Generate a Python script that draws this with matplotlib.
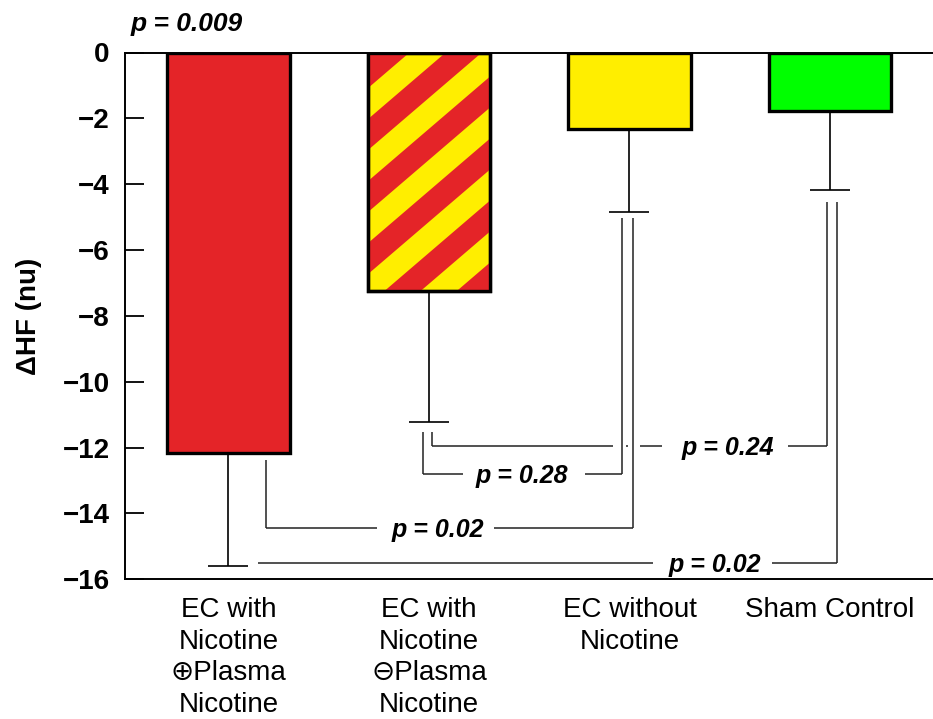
import matplotlib
matplotlib.use("Agg")
import matplotlib.pyplot as plt
from matplotlib.transforms import IdentityTransform
from matplotlib.patches import Polygon
import numpy as np

plt.rcParams['font.family'] = ['Liberation Sans', 'DejaVu Sans']

# ---------------- data ----------------
categories = ["EC with\nNicotine\n\u2295Plasma\nNicotine",
              "EC with\nNicotine\n\u2296Plasma\nNicotine",
              "EC without\nNicotine",
              "Sham Control"]
delta_hf = [-12.15, -7.24, -2.31, -1.79]
sem = [3.44, 3.97, 2.53, 2.40]
bar_colors = ['#E42428', '#FFEE00', '#FFEE00', '#00FF00']
striped = [False, True, False, False]
stripe_color = '#E42428'
yticks = [0, -2, -4, -6, -8, -10, -12, -14, -16]
ylabel = "\u0394HF (nu)"
overall_p = "p = 0.009"

# pairwise comparisons
comp_labels = ["p = 0.02", "p = 0.28", "p = 0.24", "p = 0.02"]
comp_left_x = [0.187, 0.970, 1.015, 0.147]
comp_left_top = [-12.38, -11.53, -11.53, None]
comp_level = [-14.44, -12.80, -11.95, -15.49]
comp_right_x = [2.018, 1.962, 2.985, 3.035]
comp_right_top = [-5.03, -5.03, -4.54, -4.54]
comp_text_x = [1.042, 1.464, 2.489, 2.426]
comp_gaps = [[(0.741, 1.324)],
             [(1.170, 1.778)],
             [(1.918, 1.983), (1.993, 2.052), (2.162, 2.791)],
             [(2.117, 2.711)]]

# ---------------- figure ----------------
W, H = 933, 719
fig = plt.figure(figsize=(W / 100, H / 100), dpi=100)
ax = fig.add_axes([124.5 / W, (H - 579.3) / H, (935 - 124.5) / W, (579.3 - 52.5) / H])

x = np.arange(len(categories))
ax.set_xlim(-0.5187, 3.5237)
ax.set_ylim(-16, 0)

bars = ax.bar(x, delta_hf, width=0.612, color=bar_colors, edgecolor='black',
              linewidth=2.4, zorder=2)

# stripes on the hatched bar (drawn in pixel space, clipped to bar)
period = 62.0
t = np.tan(np.deg2rad(40.6))
for idx, (b, s) in enumerate(zip(bars, striped)):
    if not s:
        continue
    bb = b.get_window_extent()
    x0, x1 = bb.x0 - 5, bb.x1 + 5
    c_ref = (H - 86.7) - (bb.x0 + 2) * t
    cmin = bb.y0 - x1 * t - period
    cmax = bb.y1 - x0 * t + period
    k0 = int(np.floor((cmin - c_ref) / period))
    k1 = int(np.ceil((cmax - c_ref) / period))
    for k in range(k0, k1 + 1):
        c1 = c_ref + k * period
        c2 = c1 + period / 2
        poly = Polygon([(x0, x0 * t + c1), (x1, x1 * t + c1),
                        (x1, x1 * t + c2), (x0, x0 * t + c2)],
                       closed=True, facecolor=stripe_color, edgecolor='none',
                       transform=IdentityTransform(), zorder=2.1)
        ax.add_artist(poly)
        poly.set_clip_path(b)
    # redraw edge on top
    ax.bar(x[idx], delta_hf[idx], width=0.612, color='none',
           edgecolor='black', linewidth=2.4, zorder=2.2)

ax.errorbar(x, delta_hf, yerr=[sem, [0] * len(sem)], fmt='none', ecolor='black',
            elinewidth=1.2, capsize=14.4, capthick=1.2, zorder=1.5)

# comparison brackets
lc = '#222222'
lw = 1.1
for i in range(len(comp_labels)):
    lx, rx, lev = comp_left_x[i], comp_right_x[i], comp_level[i]
    if comp_left_top[i] is not None:
        ax.vlines(lx, lev, comp_left_top[i], color=lc, lw=lw, zorder=1.4)
    ax.vlines(rx, lev, comp_right_top[i], color=lc, lw=lw, zorder=1.4)
    pieces = []
    start = lx
    for g0, g1 in comp_gaps[i]:
        pieces.append((start, g0))
        start = g1
    pieces.append((start, rx))
    for p0, p1 in pieces:
        ax.hlines(lev, p0, p1, color=lc, lw=lw, zorder=1.4)
    ax.annotate(comp_labels[i], xy=(comp_text_x[i], lev), xytext=(0, -6.5),
                textcoords='offset points', ha='center', va='baseline',
                fontsize=18, fontweight='bold', fontstyle='italic')

ax.annotate(overall_p, xy=(-0.21, 0), xytext=(0, 15.5), textcoords='offset points',
            ha='center', va='baseline', fontsize=19, fontweight='bold',
            fontstyle='italic', annotation_clip=False)

# axes styling
for side in ['left', 'top', 'bottom']:
    ax.spines[side].set_linewidth(1.4)
ax.spines['right'].set_visible(False)

ax.set_yticks(yticks, labels=[f"{v:g}".replace('-', '\u2212') for v in yticks],
              fontsize=20, fontweight='bold')
ax.tick_params(axis='y', direction='in', length=13.5, width=1.3, pad=10.8)
ax.set_xticks(x, labels=categories, fontsize=20)
ax.tick_params(axis='x', length=0, pad=13)
for lab in ax.get_xticklabels():
    lab.set_linespacing(1.27)

ax.set_ylabel(ylabel, fontsize=20, fontweight='bold', labelpad=15)

fig.savefig("out.png", dpi=100)
